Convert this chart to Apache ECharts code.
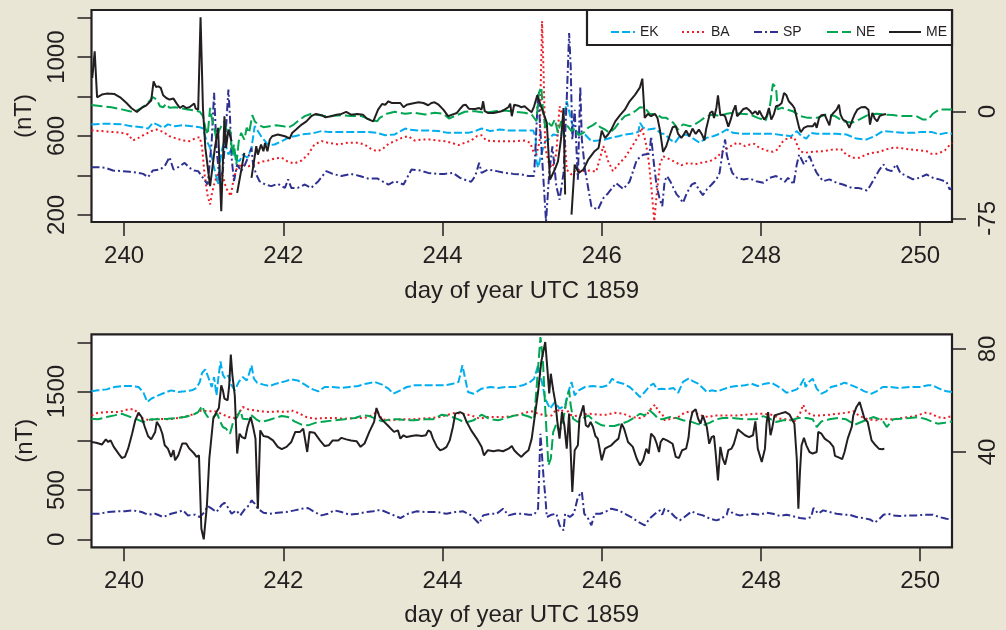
<!DOCTYPE html>
<html><head><meta charset="utf-8">
<script src="https://cdn.jsdelivr.net/npm/echarts@6/dist/echarts.min.js"></script>
<style>html,body{margin:0;padding:0;background:#e9e6d6}#c{width:1006px;height:630px}</style>
</head><body><div id="c"></div>
<script>
// ---------- data (day of year, value) ----------
const stations = ['EK','BA','SP','NE','ME'];
const xTicks = [240,242,244,246,248,250];
const topLeftTicks = [200,400,600,800,1000,1200];
const topLeftLabels = [200,600,1000];
const topRightTicks = [-75,0];
const botLeftTicks = [0,500,1000,1500,2000];
const botLeftLabels = [0,500,1500];
const botRightTicks = [40,80];

const EK_top = [[239.59,659],[239.72,662],[239.84,662],[239.97,659],[240.09,650],[240.22,645],[240.30,638],[240.36,667],[240.43,655],[240.49,642],[240.55,659],[240.64,650],[240.74,655],[240.85,650],[240.95,645],[240.99,638],[241.03,582],[241.08,540],[241.12,456],[241.18,354],[241.20,456],[241.23,532],[241.26,574],[241.31,506],[241.36,540],[241.40,481],[241.45,473],[241.49,506],[241.55,490],[241.60,540],[241.64,650],[241.68,625],[241.72,599],[241.77,574],[241.81,554],[241.89,557],[241.98,574],[242.06,591],[242.14,599],[242.23,608],[242.31,611],[242.39,616],[242.48,625],[242.56,621],[242.69,621],[242.81,621],[242.94,621],[243.06,620],[243.18,616],[243.28,604],[243.40,608],[243.53,638],[243.57,633],[243.70,628],[243.82,628],[243.95,625],[244.07,616],[244.20,616],[244.32,616],[244.41,625],[244.49,638],[244.60,625],[244.72,633],[244.83,628],[244.95,628],[245.08,628],[245.14,628],[245.17,591],[245.18,473],[245.20,439],[245.24,506],[245.29,574],[245.33,582],[245.39,608],[245.49,599],[245.56,777],[245.60,709],[245.64,642],[245.70,616],[245.79,608],[245.87,574],[245.95,577],[246.04,582],[246.12,591],[246.21,599],[246.29,608],[246.37,611],[246.46,621],[246.48,667],[246.52,642],[246.58,633],[246.67,638],[246.75,611],[246.79,611],[246.86,582],[246.92,566],[246.98,599],[247.06,608],[247.15,587],[247.23,566],[247.32,591],[247.40,599],[247.48,611],[247.57,633],[247.65,616],[247.78,611],[247.90,611],[248.03,611],[248.15,611],[248.28,604],[248.38,599],[248.45,625],[248.51,599],[248.57,587],[248.63,616],[248.70,611],[248.82,611],[248.95,611],[249.07,608],[249.20,587],[249.32,582],[249.43,599],[249.53,625],[249.66,621],[249.78,616],[249.91,616],[250.03,621],[250.14,621],[250.24,608],[250.33,616],[250.40,611]];

const BA_top = [[239.59,628],[239.72,625],[239.84,621],[239.97,616],[240.05,608],[240.11,577],[240.18,591],[240.26,608],[240.34,625],[240.41,633],[240.49,621],[240.57,599],[240.66,587],[240.74,577],[240.82,574],[240.91,591],[240.95,594],[240.98,540],[241.01,405],[241.05,295],[241.08,253],[241.10,304],[241.14,371],[241.18,405],[241.24,397],[241.28,337],[241.34,295],[241.37,371],[241.41,430],[241.47,456],[241.56,447],[241.64,456],[241.72,469],[241.81,476],[241.89,486],[241.98,490],[242.06,469],[242.14,461],[242.23,476],[242.31,506],[242.39,557],[242.48,574],[242.56,566],[242.69,557],[242.81,566],[242.94,566],[243.02,557],[243.11,532],[243.18,523],[243.24,532],[243.32,560],[243.40,574],[243.49,591],[243.57,599],[243.65,577],[243.74,582],[243.84,582],[243.95,577],[244.03,574],[244.11,566],[244.20,554],[244.28,566],[244.36,577],[244.43,599],[244.49,604],[244.55,577],[244.66,574],[244.78,574],[244.91,574],[245.03,577],[245.10,566],[245.14,523],[245.18,506],[245.22,574],[245.25,1182],[245.27,912],[245.29,540],[245.34,456],[245.38,439],[245.43,513],[245.47,751],[245.52,692],[245.56,429],[245.62,405],[245.68,430],[245.77,422],[245.85,425],[245.93,419],[246.02,549],[246.08,473],[246.14,422],[246.21,456],[246.29,490],[246.37,540],[246.46,599],[246.50,642],[246.55,574],[246.59,473],[246.62,354],[246.66,168],[246.69,304],[246.73,456],[246.77,498],[246.86,481],[246.94,464],[247.00,452],[247.09,464],[247.17,456],[247.25,464],[247.36,473],[247.44,490],[247.52,523],[247.59,540],[247.65,557],[247.71,566],[247.80,549],[247.86,557],[247.92,560],[247.98,540],[248.07,527],[248.15,520],[248.21,532],[248.26,566],[248.30,582],[248.36,591],[248.42,591],[248.45,560],[248.49,523],[248.55,515],[248.65,520],[248.78,523],[248.91,532],[249.01,532],[249.07,506],[249.16,490],[249.24,490],[249.32,506],[249.41,515],[249.49,520],[249.57,532],[249.66,540],[249.74,540],[249.87,532],[249.99,527],[250.08,523],[250.14,510],[250.22,510],[250.31,527],[250.37,554],[250.40,566]];

const SP_top = [[239.59,442],[239.67,442],[239.76,439],[239.86,425],[239.97,422],[240.07,419],[240.18,413],[240.24,408],[240.30,391],[240.36,425],[240.45,430],[240.51,447],[240.57,493],[240.62,430],[240.68,442],[240.76,464],[240.82,439],[240.88,425],[240.93,422],[241.05,354],[241.10,574],[241.13,819],[241.16,540],[241.20,371],[241.24,422],[241.28,642],[241.31,836],[241.33,692],[241.35,490],[241.38,371],[241.42,456],[241.47,422],[241.52,456],[241.57,506],[241.60,540],[241.62,456],[241.66,405],[241.70,371],[241.77,354],[241.85,346],[241.93,358],[242.02,337],[242.06,380],[242.10,337],[242.18,337],[242.27,354],[242.35,337],[242.44,371],[242.54,422],[242.62,408],[242.73,397],[242.85,408],[242.96,397],[243.06,385],[243.18,385],[243.24,371],[243.32,354],[243.40,371],[243.51,354],[243.61,430],[243.72,425],[243.82,413],[243.93,408],[244.03,408],[244.13,413],[244.22,388],[244.30,375],[244.36,368],[244.41,397],[244.46,464],[244.49,413],[244.57,430],[244.68,422],[244.78,413],[244.89,408],[244.99,405],[245.08,397],[245.15,397],[245.20,817],[245.30,167],[245.34,412],[245.38,547],[245.43,344],[245.47,277],[245.52,412],[245.56,784],[245.59,1122],[245.61,953],[245.63,581],[245.66,733],[245.70,378],[245.73,851],[245.75,581],[245.79,429],[245.87,243],[245.95,226],[246.02,285],[246.08,310],[246.18,361],[246.27,331],[246.35,369],[246.44,479],[246.52,505],[246.60,510],[246.62,598],[246.65,479],[246.69,344],[246.73,277],[246.76,244],[246.79,371],[246.82,397],[246.86,371],[246.90,337],[246.94,304],[246.98,287],[247.02,261],[247.07,312],[247.13,354],[247.17,363],[247.22,329],[247.27,300],[247.32,329],[247.38,354],[247.44,380],[247.48,413],[247.52,523],[247.55,582],[247.57,506],[247.60,459],[247.64,413],[247.70,388],[247.78,380],[247.86,385],[247.94,371],[248.03,363],[248.11,388],[248.19,397],[248.26,380],[248.30,368],[248.34,388],[248.38,371],[248.41,354],[248.45,456],[248.48,506],[248.51,481],[248.54,456],[248.58,481],[248.61,498],[248.65,456],[248.70,413],[248.78,371],[248.86,380],[248.95,363],[249.03,354],[249.14,337],[249.22,337],[249.29,329],[249.33,324],[249.37,346],[249.43,388],[249.49,430],[249.54,456],[249.58,430],[249.64,422],[249.70,456],[249.75,413],[249.83,397],[249.91,380],[249.99,388],[250.08,405],[250.16,388],[250.24,380],[250.33,368],[250.37,329],[250.40,337]];

const NE_top = [[239.59,757],[239.72,751],[239.84,746],[239.97,735],[240.07,726],[240.13,723],[240.22,743],[240.30,768],[240.36,797],[240.41,785],[240.45,751],[240.49,746],[240.53,763],[240.57,743],[240.64,746],[240.72,740],[240.80,735],[240.89,729],[240.95,723],[240.99,701],[241.02,642],[241.05,608],[241.08,743],[241.10,692],[241.13,642],[241.16,582],[241.19,625],[241.22,650],[241.26,675],[241.30,608],[241.33,633],[241.36,506],[241.38,557],[241.41,456],[241.44,574],[241.47,616],[241.51,582],[241.54,642],[241.57,616],[241.61,706],[241.64,675],[241.68,659],[241.75,645],[241.83,650],[241.91,655],[242.00,650],[242.06,642],[242.12,655],[242.18,675],[242.27,701],[242.35,713],[242.44,706],[242.52,701],[242.60,701],[242.73,706],[242.85,701],[242.98,701],[243.08,684],[243.18,675],[243.21,692],[243.30,713],[243.40,723],[243.53,713],[243.65,718],[243.78,709],[243.90,718],[244.01,713],[244.08,689],[244.18,706],[244.28,723],[244.41,726],[244.53,718],[244.66,726],[244.78,729],[244.91,723],[245.03,718],[245.12,709],[245.18,675],[245.21,819],[245.24,848],[245.26,743],[245.29,642],[245.33,667],[245.37,650],[245.41,684],[245.45,616],[245.49,675],[245.53,659],[245.57,650],[245.62,625],[245.66,638],[245.71,604],[245.77,616],[245.83,642],[245.89,655],[245.93,667],[245.98,645],[246.04,633],[246.10,616],[246.16,638],[246.23,675],[246.29,701],[246.35,709],[246.42,726],[246.48,746],[246.54,743],[246.60,713],[246.69,709],[246.76,692],[246.81,692],[246.90,667],[246.96,633],[247.02,659],[247.11,650],[247.17,659],[247.23,675],[247.32,701],[247.40,709],[247.48,701],[247.57,713],[247.65,718],[247.75,713],[247.86,709],[247.96,692],[248.06,679],[248.11,743],[248.15,865],[248.19,844],[248.21,735],[248.26,743],[248.32,735],[248.40,726],[248.49,701],[248.59,692],[248.70,692],[248.82,709],[248.93,701],[249.03,675],[249.14,667],[249.24,684],[249.34,706],[249.45,713],[249.55,709],[249.66,706],[249.74,701],[249.85,701],[249.95,701],[250.03,684],[250.10,684],[250.16,713],[250.24,735],[250.35,735],[250.40,735]];

const ME_top = [[239.60,23.7],[239.63,42.4],[239.66,10.1],[239.72,12.0],[239.78,12.7],[239.88,12.4],[239.95,10.1],[240.03,6.1],[240.09,2.6],[240.16,-0.2],[240.22,2.6],[240.28,4.5],[240.34,7.8],[240.37,21.3],[240.40,17.4],[240.43,17.8],[240.46,16.7],[240.49,11.5],[240.53,9.6],[240.57,8.5],[240.62,9.2],[240.64,9.6],[240.67,4.9],[240.70,2.6],[240.74,4.2],[240.78,2.6],[240.82,3.1],[240.88,5.7],[240.90,2.1],[240.93,1.4],[240.96,66.3],[240.99,2.6],[241.02,-25.5],[241.08,-52.4],[241.14,-25.5],[241.18,-11.4],[241.22,-70.0],[241.26,-3.2],[241.28,-25.5],[241.31,-12.6],[241.35,-20.8],[241.38,'-'],[241.42,-57.1],[241.51,-29.0],[241.55,'-'],[241.60,-46.6],[241.66,-24.3],[241.68,-30.2],[241.72,-23.2],[241.75,-27.8],[241.77,-22.0],[241.80,-27.8],[241.83,-19.6],[241.86,-17.3],[241.93,-16.1],[242.02,-17.3],[242.08,-19.0],[242.11,-15.0],[242.16,-12.6],[242.23,-9.1],[242.29,-6.8],[242.35,-3.2],[242.41,-1.6],[242.48,-2.5],[242.53,-4.0],[242.60,-3.2],[242.67,-2.1],[242.73,-1.6],[242.79,-0.2],[242.85,-2.1],[242.93,-1.6],[243.00,-2.1],[243.05,-4.9],[243.13,-6.8],[243.19,1.4],[243.24,5.4],[243.28,4.9],[243.32,7.3],[243.36,6.1],[243.40,6.1],[243.47,6.1],[243.51,3.1],[243.55,4.9],[243.59,5.4],[243.65,6.1],[243.70,6.6],[243.76,6.1],[243.82,4.5],[243.86,6.1],[243.90,6.6],[243.95,4.9],[244.01,1.4],[244.07,-3.2],[244.12,-2.1],[244.18,-0.9],[244.23,2.6],[244.26,4.5],[244.29,4.9],[244.33,2.1],[244.41,1.9],[244.46,2.6],[244.49,1.4],[244.51,7.3],[244.53,0.3],[244.57,-0.9],[244.64,-0.9],[244.70,-0.2],[244.74,0.3],[244.78,1.4],[244.83,3.3],[244.85,5.7],[244.87,-3.2],[244.90,4.9],[244.95,4.2],[244.99,3.1],[245.03,3.8],[245.08,1.4],[245.12,-0.4],[245.15,3.8],[245.19,11.5],[245.20,12.4],[245.31,-7.9],[245.35,-47.8],[245.41,-40.7],[245.45,-34.9],[245.49,-18.5],[245.52,2.6],[245.54,-58.3],[245.58,'-'],[245.62,-72.4],[245.66,-37.2],[245.71,-43.1],[245.77,-40.7],[245.83,-33.7],[245.91,-27.8],[245.96,-25.5],[246.00,-13.3],[246.04,-18.5],[246.08,-16.1],[246.12,-12.6],[246.17,-6.8],[246.23,-2.5],[246.29,1.4],[246.35,7.3],[246.42,12.0],[246.48,17.1],[246.51,23.2],[246.54,-4.4],[246.58,-1.6],[246.62,-3.2],[246.67,-1.6],[246.70,-4.4],[246.73,-12.6],[246.77,-28.3],[246.81,-24.3],[246.85,-17.3],[246.89,-11.0],[246.93,-10.3],[246.96,-15.7],[247.00,-18.5],[247.03,-16.1],[247.06,-13.3],[247.10,-17.3],[247.14,-11.9],[247.18,-15.7],[247.22,-12.6],[247.26,-16.1],[247.29,-20.1],[247.31,-12.6],[247.34,-5.6],[247.36,-0.9],[247.39,0.3],[247.41,-4.4],[247.44,2.6],[247.46,11.5],[247.49,-2.5],[247.52,-2.1],[247.55,-3.2],[247.59,-10.5],[247.62,-5.6],[247.65,0.3],[247.68,4.5],[247.70,-3.2],[247.74,-0.9],[247.78,1.9],[247.82,2.6],[247.86,0.7],[247.89,-1.6],[247.93,0.3],[247.96,-2.1],[247.98,0.7],[248.01,-2.5],[248.04,-5.6],[248.07,-3.2],[248.10,2.6],[248.13,-5.6],[248.16,-2.1],[248.19,3.8],[248.23,4.5],[248.26,6.1],[248.29,13.2],[248.32,11.5],[248.35,7.3],[248.39,4.9],[248.42,2.6],[248.45,-4.4],[248.48,-11.4],[248.50,-14.5],[248.54,-11.4],[248.58,-10.3],[248.62,-10.3],[248.65,-10.3],[248.68,-7.9],[248.70,-11.4],[248.73,-4.4],[248.76,-2.5],[248.80,-2.1],[248.82,-0.9],[248.86,-9.6],[248.88,-3.2],[248.91,-0.9],[248.95,1.4],[248.98,4.9],[249.00,-2.1],[249.03,-5.6],[249.07,-6.8],[249.11,-11.4],[249.15,-5.6],[249.18,-1.6],[249.21,1.4],[249.26,3.1],[249.31,3.3],[249.35,1.4],[249.37,-9.1],[249.40,-0.9],[249.43,-4.9],[249.46,-6.8],[249.49,-3.2],[249.53,-2.1],[249.57,-1.6]];

const EK_bot = [[239.59,1502],[239.67,1512],[239.78,1522],[239.88,1546],[239.99,1556],[240.09,1556],[240.18,1546],[240.24,1495],[240.29,1394],[240.34,1427],[240.43,1461],[240.51,1488],[240.59,1512],[240.68,1495],[240.76,1502],[240.85,1512],[240.91,1536],[240.95,1597],[240.98,1691],[241.02,1725],[241.06,1640],[241.10,1546],[241.13,1647],[241.16,1461],[241.18,1613],[241.21,1806],[241.24,1671],[241.27,1630],[241.31,1664],[241.35,1563],[241.39,1512],[241.44,1597],[241.49,1647],[241.54,1613],[241.57,1681],[241.60,1766],[241.63,1630],[241.67,1590],[241.75,1570],[241.83,1556],[241.91,1580],[242.02,1603],[242.10,1624],[242.18,1613],[242.27,1570],[242.35,1529],[242.44,1502],[242.52,1546],[242.62,1546],[242.73,1536],[242.83,1546],[242.94,1556],[243.04,1580],[243.15,1597],[243.24,1570],[243.32,1529],[243.38,1478],[243.47,1512],[243.55,1546],[243.65,1563],[243.78,1563],[243.90,1563],[244.03,1563],[244.13,1580],[244.20,1597],[244.25,1766],[244.28,1647],[244.32,1495],[244.39,1478],[244.49,1529],[244.60,1546],[244.70,1536],[244.80,1546],[244.91,1546],[245.01,1563],[245.10,1597],[245.15,1630],[245.20,1766],[245.24,1630],[245.29,1427],[245.35,1326],[245.41,1394],[245.47,1326],[245.54,1360],[245.58,1495],[245.62,1597],[245.66,1461],[245.71,1512],[245.79,1546],[245.89,1556],[246.00,1546],[246.08,1563],[246.13,1630],[246.19,1597],[246.27,1580],[246.35,1546],[246.42,1495],[246.48,1444],[246.54,1495],[246.60,1556],[246.65,1580],[246.70,1522],[246.76,1529],[246.81,1522],[246.90,1536],[246.96,1488],[247.02,1597],[247.09,1630],[247.15,1603],[247.21,1580],[247.27,1536],[247.32,1495],[247.38,1512],[247.46,1502],[247.52,1522],[247.61,1546],[247.69,1556],[247.80,1563],[247.88,1580],[247.96,1556],[248.05,1580],[248.13,1590],[248.19,1563],[248.26,1529],[248.32,1488],[248.38,1502],[248.45,1522],[248.49,1556],[248.54,1630],[248.56,1546],[248.60,1597],[248.65,1630],[248.70,1529],[248.76,1478],[248.82,1502],[248.88,1546],[248.97,1563],[249.05,1590],[249.14,1563],[249.22,1536],[249.30,1502],[249.39,1478],[249.45,1502],[249.53,1546],[249.62,1546],[249.74,1536],[249.87,1546],[249.99,1546],[250.10,1563],[250.16,1563],[250.24,1529],[250.33,1502],[250.40,1495]];

const BA_bot = [[239.59,1258],[239.67,1285],[239.80,1292],[239.93,1292],[240.05,1319],[240.13,1319],[240.22,1231],[240.32,1208],[240.43,1224],[240.55,1218],[240.68,1231],[240.80,1251],[240.89,1275],[240.97,1309],[241.05,1299],[241.14,1299],[241.22,1275],[241.31,1241],[241.39,1231],[241.45,1292],[241.49,1343],[241.56,1319],[241.64,1309],[241.72,1299],[241.83,1292],[241.93,1299],[242.04,1292],[242.10,1309],[242.18,1285],[242.29,1241],[242.39,1224],[242.52,1231],[242.64,1231],[242.77,1224],[242.90,1231],[243.02,1231],[243.13,1265],[243.18,1299],[243.24,1218],[243.34,1208],[243.47,1218],[243.59,1218],[243.72,1224],[243.84,1231],[243.97,1241],[244.07,1265],[244.16,1285],[244.24,1275],[244.36,1258],[244.47,1224],[244.55,1241],[244.66,1241],[244.76,1241],[244.87,1251],[244.95,1265],[245.03,1285],[245.12,1299],[245.20,1275],[245.29,1258],[245.37,1258],[245.43,1319],[245.49,1292],[245.54,1343],[245.60,1265],[245.66,1251],[245.75,1265],[245.85,1275],[245.95,1265],[246.06,1265],[246.16,1285],[246.27,1275],[246.37,1241],[246.48,1231],[246.56,1258],[246.62,1326],[246.67,1367],[246.71,1299],[246.76,1275],[246.79,1208],[246.88,1224],[246.96,1241],[247.04,1285],[247.11,1299],[247.17,1285],[247.25,1258],[247.34,1241],[247.42,1258],[247.50,1258],[247.61,1258],[247.71,1258],[247.82,1265],[247.92,1275],[248.03,1275],[248.13,1265],[248.24,1224],[248.34,1218],[248.42,1197],[248.49,1275],[248.53,1367],[248.57,1292],[248.65,1258],[248.76,1258],[248.86,1265],[248.97,1275],[249.07,1285],[249.16,1299],[249.24,1251],[249.34,1218],[249.45,1208],[249.55,1224],[249.66,1218],[249.76,1231],[249.87,1241],[249.97,1258],[250.06,1285],[250.14,1275],[250.22,1241],[250.31,1231],[250.40,1251]];

const SP_bot = [[239.59,260],[239.69,260],[239.80,277],[239.90,284],[240.01,284],[240.11,294],[240.22,277],[240.30,250],[240.39,260],[240.49,226],[240.59,260],[240.68,277],[240.74,294],[240.80,243],[240.89,250],[240.95,226],[241.01,277],[241.05,338],[241.10,311],[241.16,277],[241.22,345],[241.26,372],[241.30,328],[241.35,260],[241.41,294],[241.46,243],[241.52,311],[241.57,345],[241.60,396],[241.64,362],[241.68,311],[241.75,270],[241.83,260],[241.93,270],[242.04,277],[242.14,294],[242.23,311],[242.31,318],[242.39,277],[242.48,243],[242.56,260],[242.64,294],[242.73,277],[242.83,250],[242.94,260],[243.04,277],[243.13,284],[243.18,294],[243.24,294],[243.34,260],[243.47,216],[243.57,260],[243.67,284],[243.80,277],[243.93,277],[244.05,260],[244.16,277],[244.26,284],[244.36,243],[244.46,159],[244.51,243],[244.60,260],[244.68,260],[244.76,311],[244.83,243],[244.91,260],[244.99,260],[245.08,250],[245.15,250],[245.20,311],[245.23,1072],[245.25,1089],[245.27,615],[245.29,446],[245.31,226],[245.37,250],[245.43,260],[245.47,142],[245.52,91],[245.54,260],[245.60,226],[245.65,260],[245.70,429],[245.75,480],[245.78,260],[245.83,209],[245.87,142],[245.91,260],[245.98,260],[246.04,277],[246.12,311],[246.21,294],[246.29,260],[246.37,226],[246.46,176],[246.54,142],[246.60,209],[246.67,260],[246.73,294],[246.76,250],[246.79,311],[246.86,277],[246.92,226],[246.98,192],[247.04,226],[247.13,284],[247.19,260],[247.27,243],[247.36,209],[247.44,192],[247.50,209],[247.57,250],[247.59,311],[247.65,260],[247.73,243],[247.82,250],[247.90,260],[247.98,250],[248.07,270],[248.15,260],[248.24,236],[248.32,250],[248.40,236],[248.49,216],[248.57,209],[248.63,226],[248.66,318],[248.72,260],[248.78,294],[248.86,277],[248.95,260],[249.03,250],[249.11,250],[249.20,226],[249.28,216],[249.37,202],[249.43,169],[249.49,209],[249.54,250],[249.60,260],[249.66,243],[249.74,236],[249.85,243],[249.95,243],[250.06,250],[250.16,250],[250.24,226],[250.33,209],[250.40,202]];

const NE_bot = [[239.59,1224],[239.67,1218],[239.78,1241],[239.88,1258],[239.97,1275],[240.05,1251],[240.16,1218],[240.24,1191],[240.34,1218],[240.45,1218],[240.55,1224],[240.66,1231],[240.76,1241],[240.87,1265],[240.93,1292],[240.98,1353],[241.01,1292],[241.05,1241],[241.12,1241],[241.17,1275],[241.20,1208],[241.24,1140],[241.28,1123],[241.33,1072],[241.37,1191],[241.42,1241],[241.46,1309],[241.49,1224],[241.55,1218],[241.60,1258],[241.66,1218],[241.72,1191],[241.81,1208],[241.89,1231],[241.98,1251],[242.06,1241],[242.14,1197],[242.23,1164],[242.31,1157],[242.41,1184],[242.52,1197],[242.64,1208],[242.77,1218],[242.90,1231],[243.00,1258],[243.08,1251],[243.18,1218],[243.24,1197],[243.34,1218],[243.44,1218],[243.55,1208],[243.65,1208],[243.78,1218],[243.88,1218],[243.99,1265],[244.09,1251],[244.20,1218],[244.28,1184],[244.39,1208],[244.49,1265],[244.60,1218],[244.70,1208],[244.80,1231],[244.91,1258],[245.01,1265],[245.10,1241],[245.15,1218],[245.19,1630],[245.23,2053],[245.26,1833],[245.29,1326],[245.33,751],[245.36,818],[245.39,1089],[245.43,1174],[245.47,1089],[245.52,1231],[245.56,1427],[245.59,1512],[245.61,1360],[245.64,1224],[245.70,1191],[245.77,1231],[245.83,1258],[245.91,1197],[246.00,1157],[246.08,1150],[246.16,1150],[246.25,1174],[246.33,1197],[246.42,1241],[246.48,1275],[246.54,1258],[246.60,1309],[246.65,1275],[246.71,1224],[246.76,1218],[246.86,1241],[246.94,1231],[247.02,1208],[247.11,1197],[247.19,1174],[247.27,1157],[247.36,1184],[247.44,1218],[247.52,1231],[247.63,1231],[247.73,1224],[247.84,1218],[247.94,1218],[248.03,1251],[248.11,1224],[248.19,1191],[248.28,1208],[248.38,1208],[248.47,1231],[248.57,1231],[248.65,1218],[248.70,1140],[248.76,1197],[248.86,1218],[248.97,1231],[249.07,1218],[249.18,1164],[249.26,1191],[249.34,1218],[249.41,1241],[249.49,1218],[249.54,1191],[249.58,1140],[249.66,1218],[249.76,1224],[249.87,1231],[249.97,1241],[250.08,1218],[250.14,1197],[250.22,1174],[250.31,1184],[250.40,1197]];

const ME_bot = [[239.59,43.9],[239.65,43.6],[239.72,42.9],[239.77,44.9],[239.80,43.9],[239.83,44.5],[239.87,42.0],[239.93,39.4],[239.97,37.7],[240.01,38.1],[240.05,41.3],[240.10,47.1],[240.14,52.3],[240.18,55.3],[240.22,53.6],[240.26,49.7],[240.30,46.2],[240.34,44.9],[240.39,47.8],[240.41,51.7],[240.45,49.7],[240.48,47.1],[240.51,42.6],[240.55,41.3],[240.59,38.1],[240.62,40.7],[240.64,36.8],[240.68,38.7],[240.73,43.3],[240.78,43.3],[240.82,41.3],[240.88,39.4],[240.91,38.1],[240.94,38.7],[240.97,10.3],[241.00,6.1],[241.04,19.3],[241.07,37.4],[241.12,53.0],[241.16,55.5],[241.19,57.1],[241.22,65.9],[241.24,64.0],[241.26,60.7],[241.30,60.1],[241.32,65.9],[241.34,77.8],[241.36,69.8],[241.39,62.0],[241.42,39.4],[241.45,47.1],[241.48,45.8],[241.52,45.2],[241.55,49.7],[241.59,53.6],[241.62,49.7],[241.65,45.2],[241.68,18.0],[241.71,48.4],[241.75,46.2],[241.81,45.8],[241.87,44.5],[241.93,42.0],[241.98,41.1],[242.04,42.0],[242.10,43.9],[242.15,47.8],[242.21,47.8],[242.25,49.1],[242.30,40.0],[242.33,47.8],[242.39,47.5],[242.46,44.5],[242.52,42.3],[242.57,42.6],[242.62,44.5],[242.69,44.5],[242.73,45.5],[242.79,44.9],[242.85,44.5],[242.92,44.2],[242.97,42.0],[243.02,43.3],[243.08,47.8],[243.14,51.7],[243.17,57.1],[243.21,53.6],[243.26,51.9],[243.31,50.4],[243.35,49.1],[243.39,47.8],[243.44,48.4],[243.47,45.2],[243.51,46.5],[243.55,45.8],[243.61,46.2],[243.67,46.5],[243.74,46.2],[243.79,46.5],[243.82,48.4],[243.85,47.8],[243.88,45.2],[243.93,42.0],[243.97,40.7],[244.01,41.1],[244.05,42.0],[244.09,44.5],[244.13,49.7],[244.16,54.9],[244.22,55.5],[244.26,54.9],[244.30,51.9],[244.36,48.4],[244.43,45.2],[244.49,42.0],[244.52,38.7],[244.57,40.7],[244.64,40.3],[244.70,40.7],[244.76,40.3],[244.83,41.3],[244.87,42.3],[244.90,40.7],[244.94,39.4],[244.99,38.1],[245.03,39.4],[245.08,40.7],[245.12,45.2],[245.16,54.2],[245.20,63.3],[245.24,75.0],[245.29,82.7],[245.32,71.1],[245.34,62.7],[245.36,70.4],[245.39,64.0],[245.42,58.8],[245.44,52.3],[245.47,45.2],[245.50,55.5],[245.53,50.4],[245.56,41.3],[245.59,54.9],[245.61,40.0],[245.63,24.5],[245.66,40.7],[245.70,42.6],[245.72,53.0],[245.77,58.1],[245.80,50.4],[245.83,49.7],[245.86,51.7],[245.89,49.7],[245.92,46.2],[245.95,45.2],[246.00,36.8],[246.04,41.3],[246.08,42.0],[246.12,42.6],[246.16,43.9],[246.21,45.2],[246.25,51.0],[246.28,49.1],[246.33,43.9],[246.39,42.0],[246.44,37.4],[246.48,34.8],[246.52,36.8],[246.56,41.3],[246.59,39.4],[246.62,47.1],[246.66,45.8],[246.69,43.3],[246.72,40.0],[246.74,43.9],[246.77,45.2],[246.82,44.5],[246.89,43.2],[246.93,38.1],[246.97,37.7],[247.01,40.7],[247.06,41.3],[247.09,45.5],[247.11,51.7],[247.14,55.5],[247.18,56.6],[247.21,53.0],[247.24,51.0],[247.27,54.2],[247.29,54.9],[247.32,49.7],[247.35,43.2],[247.38,45.8],[247.41,46.2],[247.43,40.0],[247.46,29.0],[247.49,42.0],[247.52,37.4],[247.55,35.1],[247.59,40.7],[247.63,41.3],[247.66,43.2],[247.69,46.5],[247.71,48.8],[247.75,47.8],[247.80,46.5],[247.85,45.8],[247.90,46.5],[247.93,51.9],[247.96,41.3],[248.01,36.1],[248.05,41.3],[248.07,51.0],[248.09,55.5],[248.12,46.5],[248.14,49.1],[248.17,54.2],[248.24,54.9],[248.31,55.5],[248.36,54.5],[248.42,51.0],[248.45,37.4],[248.47,18.0],[248.49,32.3],[248.51,42.6],[248.54,45.5],[248.57,42.6],[248.61,40.0],[248.65,39.4],[248.70,40.0],[248.72,47.8],[248.76,47.1],[248.80,45.2],[248.86,43.9],[248.91,42.0],[248.93,38.5],[248.99,37.7],[249.02,37.2],[249.05,40.0],[249.09,45.2],[249.14,49.7],[249.16,54.2],[249.20,57.5],[249.24,59.4],[249.27,56.2],[249.30,53.0],[249.34,51.7],[249.39,44.5],[249.41,45.2],[249.44,42.6],[249.48,41.3],[249.52,41.1],[249.55,41.3]];

// ---------- styling ----------
const INK = '#231f20';
const FONT = 'Liberation Sans, Arial, Helvetica, sans-serif';
const styles = {
  EK: {color:'#00aeef', type:[8,3]},
  BA: {color:'#ed1c24', type:[2,3]},
  SP: {color:'#2e3192', type:[8,3,2,3]},
  NE: {color:'#00a651', type:[11,4]},
  ME: {color:INK, type:'solid'}
};
const plainNum = v => String(v);

function xAxisOpt(gi, gap){
  return {
    type:'value', gridIndex:gi, min:239.59, max:250.40,
    axisLine:{show:false, onZero:false}, splitLine:{show:false},
    axisTick:{show:true, inside:false, customValues:xTicks, length:14, lineStyle:{color:INK, width:1.5}},
    axisLabel:{customValues:xTicks, formatter:plainNum, fontSize:24, color:INK, fontFamily:FONT, margin:22},
    name:'day of year UTC 1859', nameLocation:'middle', nameGap:gap,
    nameTextStyle:{fontSize:24, color:INK, fontFamily:FONT}
  };
}
function yAxisOpt(gi, pos, min, max, ticks, labels, margin, withName, nameGap){
  const o = {
    type:'value', gridIndex:gi, position:pos, min:min, max:max,
    axisLine:{show:false, onZero:false}, splitLine:{show:false},
    axisTick:{show:true, inside:false, customValues:ticks, length:14, lineStyle:{color:INK, width:1.5}},
    axisLabel:{customValues:labels, formatter:plainNum, rotate:90, fontSize:24, color:INK, fontFamily:FONT, margin:margin}
  };
  if (withName) {
    o.name = '(nT)'; o.nameLocation = 'middle'; o.nameGap = nameGap; o.nameRotate = 90;
    o.nameTextStyle = {fontSize:24, color:INK, fontFamily:FONT};
  }
  return o;
}
function lineSeries(name, data, xi, yi){
  const s = styles[name];
  return {
    name:name, type:'line', data:data, xAxisIndex:xi, yAxisIndex:yi,
    symbol:'none', showSymbol:false, connectNulls:false, animation:false,
    lineStyle:{color:s.color, width:2, type:s.type}, itemStyle:{color:s.color}, z:2
  };
}

const legendPos = {EK:[610,24], BA:[681,24], SP:[753,24], NE:[826,24], ME:[888,32]};

const chart = echarts.init(document.getElementById('c'), null, {renderer:'canvas'});
chart.setOption({
  backgroundColor:'#e9e6d6',
  animation:false,
  textStyle:{fontFamily:FONT},
  grid:[
    {left:91.5, top:10, width:860.5, height:212, show:true, backgroundColor:'#ffffff', borderColor:INK, borderWidth:2.2, containLabel:false, outerBoundsMode:'none'},
    {left:91.5, top:334.3, width:860.5, height:213, show:true, backgroundColor:'#ffffff', borderColor:INK, borderWidth:2.2, containLabel:false, outerBoundsMode:'none'}
  ],
  xAxis:[ xAxisOpt(0, 57.5), xAxisOpt(1, 55.7) ],
  yAxis:[
    yAxisOpt(0,'left',164,1239,topLeftTicks,topLeftLabels,22.5,true,55),
    yAxisOpt(0,'right',-77.6,71.5,topRightTicks,topRightTicks,24.5,false),
    yAxisOpt(1,'left',-81,2081,botLeftTicks,botLeftLabels,22.5,true,53),
    yAxisOpt(1,'right',3,85.7,botRightTicks,botRightTicks,24.5,false)
  ],
  legend: stations.map(n => ({
    data:[n], left:legendPos[n][0], top:25, itemWidth:legendPos[n][1], itemHeight:14,
    padding:0, itemGap:0, selectedMode:false, z:6,
    itemStyle:{color:'rgba(0,0,0,0)', borderWidth:0, opacity:0},
    textStyle:{fontSize:14, color:INK, fontFamily:FONT}
  })),
  graphic:[{type:'rect', z:5, shape:{x:587, y:10, width:365, height:35},
            style:{fill:'#ffffff', stroke:INK, lineWidth:2.2}}],
  series:[
    lineSeries('EK', EK_top, 0, 0),
    lineSeries('BA', BA_top, 0, 0),
    lineSeries('SP', SP_top, 0, 0),
    lineSeries('NE', NE_top, 0, 0),
    lineSeries('ME', ME_top, 0, 1),
    lineSeries('EK', EK_bot, 1, 2),
    lineSeries('BA', BA_bot, 1, 2),
    lineSeries('SP', SP_bot, 1, 2),
    lineSeries('NE', NE_bot, 1, 2),
    lineSeries('ME', ME_bot, 1, 3)
  ]
});
</script>
</body></html>
